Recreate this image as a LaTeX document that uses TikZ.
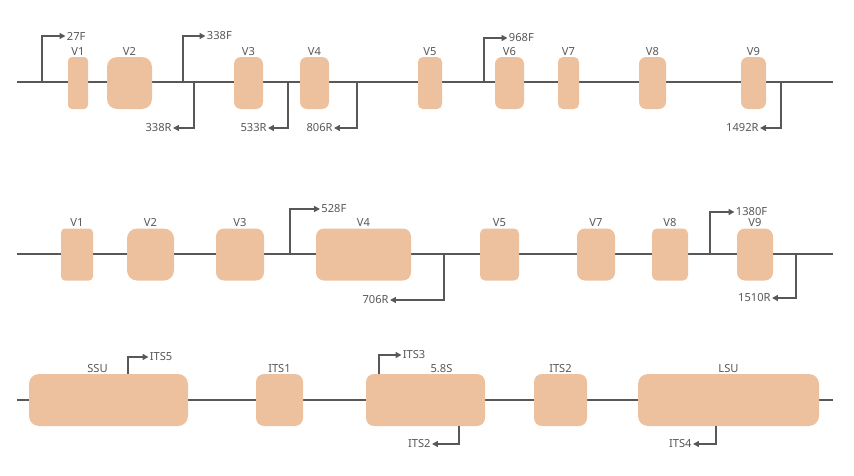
\documentclass[tikz,border=0pt]{standalone}
\usepackage{fontspec}
\setmainfont{Noto Sans}
\usepackage{tikz}
\usetikzlibrary{positioning,arrows.meta}
\definecolor{peach}{HTML}{EDC19E}
\definecolor{wire}{HTML}{585858}
\definecolor{ink}{HTML}{585858}
\newdimen\pxu \pxu=0.03cm

\begin{document}
\begin{tikzpicture}[
  x=0.03cm, y=-0.03cm,
  every node/.style={font=\fontsize{9.5}{11}\selectfont, text=ink, inner sep=1pt},
  backbone/.style={draw=wire, line width=1.7pt},
  primer/.style={draw=wire, line width=1.7pt, -{Triangle[length=5pt,width=5pt]}},
  regionbox/.style={fill=peach, draw=none, rounded corners=7\pxu, inner sep=0pt, minimum height=52\pxu},
  fwd/.style={anchor=west},
  rev/.style={anchor=east}
]
  \useasboundingbox (0,0) rectangle (854,476);

  % backbones
  \coordinate (a1) at (17,82);  \coordinate (b1) at (833,82);
  \coordinate (a2) at (17,254); \coordinate (b2) at (833,254);
  \coordinate (a3) at (17,400); \coordinate (b3) at (833,400);
  \draw[backbone] (a1) -- (b1);
  \draw[backbone] (a2) -- (b2);
  \draw[backbone] (a3) -- (b3);

  % row 1
  \node[regionbox, minimum width=20\pxu, rounded corners=4\pxu] (ra1) at (78,83) {};
  \node[regionbox, minimum width=45\pxu, rounded corners=10\pxu] (ra2) at (129.5,83) {};
  \node[regionbox, minimum width=29\pxu] (ra3) at (248.5,83) {};
  \node[regionbox, minimum width=29\pxu] (ra4) at (314.5,83) {};
  \node[regionbox, minimum width=24\pxu, rounded corners=5\pxu] (ra5) at (430,83) {};
  \node[regionbox, minimum width=29\pxu] (ra6) at (509.5,83) {};
  \node[regionbox, minimum width=21\pxu, rounded corners=5\pxu] (ra7) at (568.5,83) {};
  \node[regionbox, minimum width=27\pxu] (ra8) at (652.5,83) {};
  \node[regionbox, minimum width=25\pxu] (ra9) at (753.5,83) {};
  \foreach \i in {1,...,9}
    \node[above=0pt of ra\i] (ta\i) {V\i};

  \node[fwd] (f27)   at (65.5,36)  {27F};
  \node[fwd] (f338)  at (205.5,36) {338F};
  \node[rev] (r338)  at (173,128)  {338R};
  \node[rev] (r533)  at (268,128)  {533R};
  \node[rev] (r806)  at (334,128)  {806R};
  \node[fwd] (f968)  at (507.5,38) {968F};
  \node[rev] (r1492) at (760,128)  {1492R};
  \coordinate (pf27)   at (42,82);
  \coordinate (pf338)  at (183,82);
  \coordinate (pr338)  at (194,82);
  \coordinate (pr533)  at (288,82);
  \coordinate (pr806)  at (357,82);
  \coordinate (pf968)  at (484,82);
  \coordinate (pr1492) at (781,82);
  \foreach \p in {27,338,968}
    \draw[primer] (pf\p) |- (f\p.west);
  \foreach \p in {338,533,806,1492}
    \draw[primer] (pr\p) |- (r\p.east);

  % row 2
  \node[regionbox, minimum width=32\pxu, rounded corners=4\pxu] (rb1) at (77,254.5) {};
  \node[regionbox, minimum width=47\pxu, rounded corners=10\pxu] (rb2) at (150.5,254.5) {};
  \node[regionbox, minimum width=48\pxu, rounded corners=8\pxu] (rb3) at (240,254.5) {};
  \node[regionbox, minimum width=95\pxu, rounded corners=8\pxu] (rb4) at (363.5,254.5) {};
  \node[regionbox, minimum width=39\pxu, rounded corners=5\pxu] (rb5) at (499.5,254.5) {};
  \node[regionbox, minimum width=38\pxu, rounded corners=8\pxu] (rb7) at (596,254.5) {};
  \node[regionbox, minimum width=36\pxu, rounded corners=5\pxu] (rb8) at (670,254.5) {};
  \node[regionbox, minimum width=36\pxu, rounded corners=8\pxu] (rb9) at (755,254.5) {};
  \foreach \i in {1,2,3,4,5,7,8,9}
    \node[above=0pt of rb\i] (tb\i) {V\i};

  \node[fwd] (f528)  at (320,209) {528F};
  \node[rev] (r706)  at (390,300) {706R};
  \node[fwd] (f1380) at (734.5,212) {1380F};
  \node[rev] (r1510) at (772,298) {1510R};
  \coordinate (pf528)  at (290,254);
  \coordinate (pr706)  at (444,254);
  \coordinate (pf1380) at (710,254);
  \coordinate (pr1510) at (796,254);
  \foreach \p in {528,1380}
    \draw[primer] (pf\p) |- (f\p.west);
  \foreach \p in {706,1510}
    \draw[primer] (pr\p) |- (r\p.east);

  % row 3
  \node[regionbox, minimum width=159\pxu, rounded corners=10\pxu] (ssu) at (108.5,400) {};
  \node[regionbox, minimum width=47\pxu, rounded corners=8\pxu] (its1) at (279.5,400) {};
  \node[regionbox, minimum width=119\pxu, rounded corners=8\pxu] (s58) at (425.5,400) {};
  \node[regionbox, minimum width=53\pxu, rounded corners=8\pxu] (its2) at (560.5,400) {};
  \node[regionbox, minimum width=181\pxu, rounded corners=10\pxu] (lsu) at (728.5,400) {};
  \node[above=0pt of ssu, xshift=-11\pxu] (tssu) {SSU};
  \node[above=0pt of its1] (tits1) {ITS1};
  \node[above=0pt of s58, xshift=16\pxu] (ts58) {5.8S};
  \node[above=0pt of its2] (tits2) {ITS2};
  \node[above=0pt of lsu] (tlsu) {LSU};

  \node[fwd] (fits5) at (148.5,357) {ITS5};
  \node[fwd] (fits3) at (401.5,355) {ITS3};
  \node[rev] (rits2) at (432,444) {ITS2};
  \node[rev] (rits4) at (693,444) {ITS4};
  \coordinate (pfits5) at (128,374);
  \coordinate (pfits3) at (379,374);
  \coordinate (prits2) at (459,426);
  \coordinate (prits4) at (716,426);
  \foreach \p in {its5,its3}
    \draw[primer] (pf\p) |- (f\p.west);
  \foreach \p in {its2,its4}
    \draw[primer] (pr\p) |- (r\p.east);
\end{tikzpicture}
\end{document}
